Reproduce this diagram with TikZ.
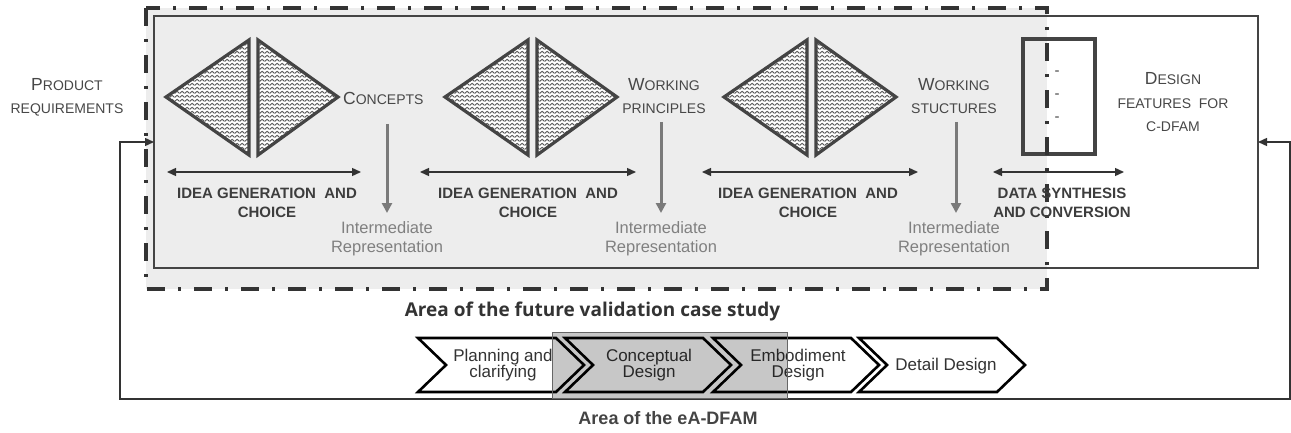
\documentclass[tikz,border=0pt]{standalone}
\usepackage{fontspec}
\setmainfont{Liberation Sans}
\newfontfamily\titlefont{Open Sans}
\usetikzlibrary{arrows.meta,patterns.meta}

\definecolor{areagray}{HTML}{EDEDED}
\definecolor{framec}{HTML}{333333}
\definecolor{boxc}{HTML}{444444}
\definecolor{lblc}{HTML}{474747}
\definecolor{boldc}{HTML}{3D3D3D}
\definecolor{irc}{HTML}{808080}
\definecolor{garr}{HTML}{7A7A7A}
\definecolor{chevtxt}{HTML}{333333}
\definecolor{patc}{HTML}{555555}

\tikzdeclarepattern{
  name=zigzag, type=uncolored,
  bottom left={(0pt,0pt)}, top right={(5pt,4.3pt)}, tile size={(5pt,4.3pt)},
  code={\draw[line width=1.05pt, line join=miter] (-0.5pt,1.2pt) -- (0pt,1pt) -- (2.5pt,3.1pt) -- (5pt,1pt) -- (5.5pt,1.2pt);}
}

\newcommand\BigL[1]{{\fontsize{17.5}{17.5}\selectfont #1}}

\tikzset{
  tri/.style={draw=boxc, line width=3.2pt, line join=miter, pattern=zigzag, pattern color=patc, preaction={fill=white}},
  dashdotfr/.style={draw=framec, line width=3.6pt, dash pattern=on 18pt off 13pt on 3pt off 13pt},
  boxline/.style={draw=boxc, line width=2pt},
  dblarr/.style={draw=framec, line width=1.4pt, {Triangle[length=9pt,width=8pt]}-{Triangle[length=9pt,width=8pt]}},
  grayarr/.style={draw=garr, line width=3pt, -{Triangle[length=10pt,width=10pt]}},
  fbarr/.style={draw=framec, line width=1.4pt, {Triangle[length=9pt,width=8pt]}-{Triangle[length=9pt,width=8pt]}},
  sclab/.style={text=lblc, align=center, inner sep=0pt, font=\fontsize{14}{23}\selectfont},
  boldlab/.style={text=boldc, align=center, inner sep=0pt, font=\fontsize{15}{19}\selectfont\bfseries},
  irlab/.style={text=irc, align=center, inner sep=0pt, font=\fontsize{16.5}{19}\selectfont},
  chev/.style={draw=black, line width=2.6pt, fill=white, line join=miter},
  chevlab/.style={text=chevtxt, align=center, inner sep=0pt, font=\fontsize{17}{16}\selectfont},
}

\newcommand\tripair[1]{%
  \begin{scope}[shift={(#1,0)}]
    \draw[tri] (0,97) -- (83,40) -- (83,155) -- cycle;
    \draw[tri] (172,97) -- (92,40) -- (92,155) -- cycle;
  \end{scope}}

\newcommand\chevron[1]{%
  \begin{scope}[shift={(#1,0)}]
    \draw[chev] (0,338) -- (138,338) -- (166,365) -- (138,392) -- (0,392) -- (28,365) -- cycle;
  \end{scope}}

\begin{document}
\begin{tikzpicture}[x=1pt,y=-1pt]
\useasboundingbox (0,0) rectangle (1291,433);

% grey area of the validation case study
\fill[areagray] (146,8) rectangle (1047,289);

% main box
\node[boxline, anchor=north west, minimum width=1104pt, minimum height=252pt, inner sep=0pt, outer sep=0pt] (main) at (154,16) {};

% data box
\node[draw=boxc, line width=3.4pt, minimum width=72pt, minimum height=115pt, inner sep=0pt] (dbox) at (1059,96.5) {};
\node[text=boxc, font=\fontsize{15}{15}\selectfont, inner sep=0pt] (d1) at (1057,73) {-};
\node[text=boxc, font=\fontsize{15}{15}\selectfont, inner sep=0pt] (d2) at (1057,96) {-};
\node[text=boxc, font=\fontsize{15}{15}\selectfont, inner sep=0pt] (d3) at (1057,119) {-};

% dash-dot frame
\draw[dashdotfr] (146,8) rectangle (1047,289);

% triangles
\tripair{166}
\tripair{445}
\tripair{724}

% labels
\node[sclab] (prod) at (67,97.5) {\BigL{P}RODUCT\\REQUIREMENTS};
\node[sclab, anchor=west] (conc) at (343,98) {\BigL{C}ONCEPTS};
\node[sclab] (wp) at (664,96.5) {\BigL{W}ORKING\\PRINCIPLES};
\node[sclab] (ws) at (954,96.5) {\BigL{W}ORKING\\STUCTURES};
\node[sclab, font=\fontsize{14}{23.5}\selectfont] (dfe) at (1173,102.5) {\BigL{D}ESIGN\\FEATURES\ \ FOR\\C-DFAM};

% double arrows
\coordinate (a1l) at (167,172); \coordinate (a1r) at (361,172);
\coordinate (a2l) at (420,172); \coordinate (a2r) at (636,172);
\coordinate (a3l) at (702,172); \coordinate (a3r) at (918,172);
\coordinate (a4l) at (993,172); \coordinate (a4r) at (1124,172);
\draw[dblarr] (a1l) -- (a1r);
\draw[dblarr] (a2l) -- (a2r);
\draw[dblarr] (a3l) -- (a3r);
\draw[dblarr] (a4l) -- (a4r);

\node[boldlab] (ig1) at (267,202.5) {IDEA GENERATION\ \ AND\\CHOICE};
\node[boldlab] (ig2) at (528,202.5) {IDEA GENERATION\ \ AND\\CHOICE};
\node[boldlab] (ig3) at (808,202.5) {IDEA GENERATION\ \ AND\\CHOICE};
\node[boldlab] (dsc) at (1062,202.5) {DATA SYNTHESIS\\AND CONVERSION};

% intermediate representations
\node[irlab] (ir1) at (387,239) {Intermediate\\Representation};
\node[irlab] (ir2) at (661,239) {Intermediate\\Representation};
\node[irlab] (ir3) at (954,239) {Intermediate\\Representation};
\coordinate (g1) at (387,124); \coordinate (g2) at (661,122); \coordinate (g3) at (956,122);
\draw[grayarr] (g1) -- (g1 |- 0,213);
\draw[grayarr] (g2) -- (g2 |- 0,213);
\draw[grayarr] (g3) -- (g3 |- 0,213);

% feedback loop
\coordinate (fbL) at (120,399);
\coordinate (fbR) at (1290,399);
\draw[fbarr] (main.west) -| (fbL) -- (fbR) |- (main.east);

\node[text=framec, inner sep=0pt, font=\titlefont\fontsize{19}{19}\selectfont\bfseries] (avcs) at (592.5,312) {Area of the future validation case study};

% chevrons
\chevron{418}
\chevron{565}
\chevron{713}
\chevron{859}
\node[chevlab] (c1) at (503,365) {Planning and\\clarifying};
\node[chevlab] (c2) at (649,365) {Conceptual\\Design};
\node[chevlab] (c3) at (798,365) {Embodiment\\Design};
\node[chevlab] (c4) at (946,366) {Detail Design};

% eA-DFAM area
\node[draw=black!60, line width=0.8pt, fill=black, fill opacity=0.22, draw opacity=1, anchor=north west, minimum width=235pt, minimum height=66pt, inner sep=0pt] (ea) at (552,332) {};
\node[text=boxc, inner sep=0pt, font=\fontsize{18}{18}\selectfont\bfseries] (eal) at (668,418) {Area of the eA-DFAM};

\end{tikzpicture}
\end{document}
